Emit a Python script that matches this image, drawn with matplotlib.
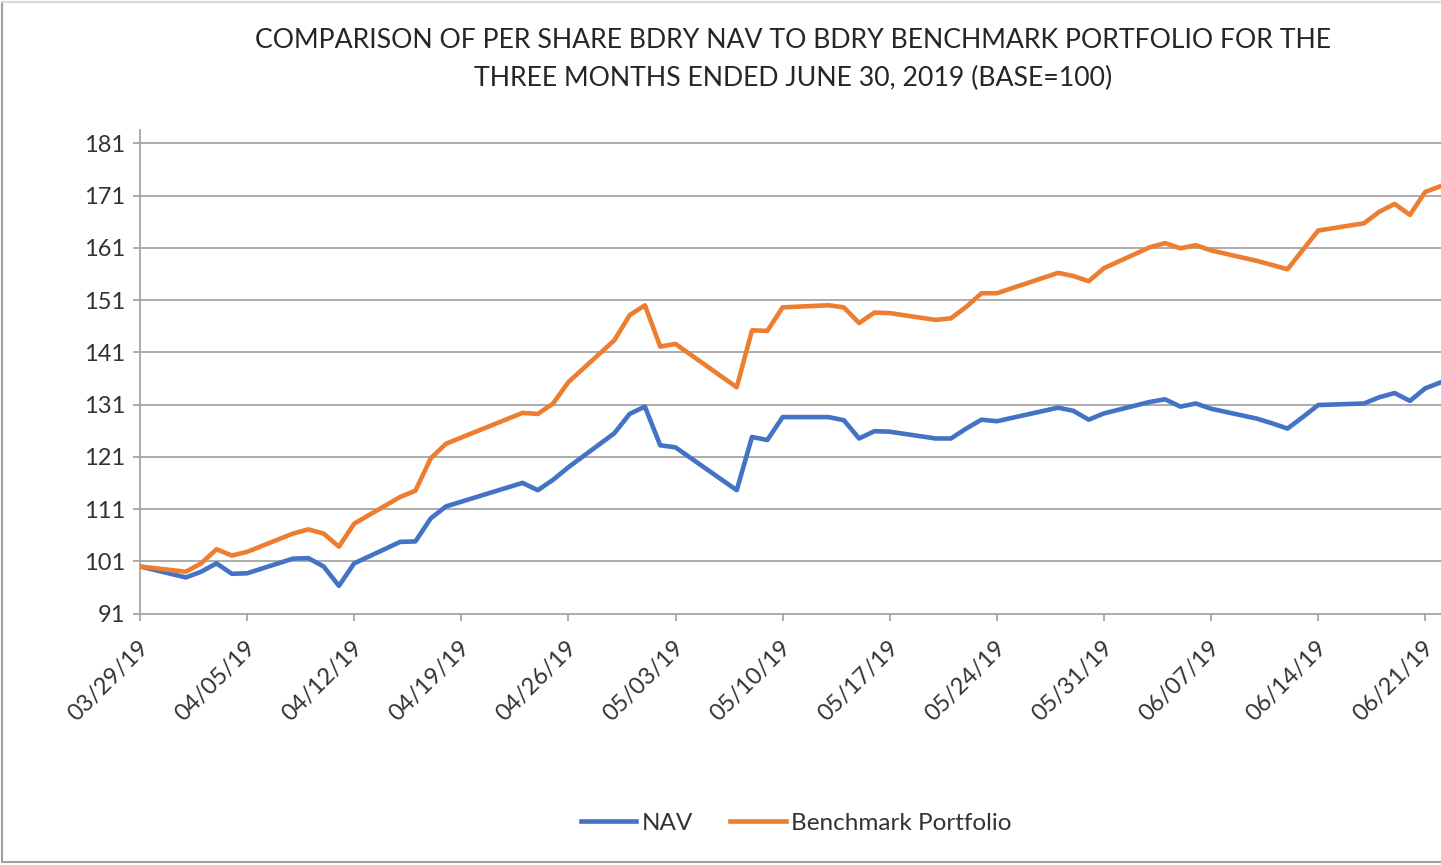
import matplotlib
matplotlib.use("Agg")
import matplotlib.pyplot as plt
import matplotlib.dates as mdates
import matplotlib.transforms as mtransforms
from matplotlib.lines import Line2D
import datetime as dt

dates = ["2019-03-29", "2019-04-01", "2019-04-02", "2019-04-03", "2019-04-04", "2019-04-05",
         "2019-04-08", "2019-04-09", "2019-04-10", "2019-04-11", "2019-04-12",
         "2019-04-15", "2019-04-16", "2019-04-17", "2019-04-18",
         "2019-04-23", "2019-04-24", "2019-04-25", "2019-04-26",
         "2019-04-29", "2019-04-30", "2019-05-01", "2019-05-02", "2019-05-03",
         "2019-05-07", "2019-05-08", "2019-05-09", "2019-05-10",
         "2019-05-13", "2019-05-14", "2019-05-15", "2019-05-16", "2019-05-17",
         "2019-05-20", "2019-05-21", "2019-05-22", "2019-05-23", "2019-05-24",
         "2019-05-28", "2019-05-29", "2019-05-30", "2019-05-31",
         "2019-06-03", "2019-06-04", "2019-06-05", "2019-06-06", "2019-06-07",
         "2019-06-10", "2019-06-11", "2019-06-12", "2019-06-13", "2019-06-14",
         "2019-06-17", "2019-06-18", "2019-06-19", "2019-06-20", "2019-06-21",
         "2019-06-24"]

nav = [100.0, 97.9, 99.0, 100.6, 98.6, 98.7,
       101.5, 101.6, 100.0, 96.3, 100.6,
       104.7, 104.8, 109.2, 111.5,
       116.0, 114.6, 116.6, 119.0,
       125.5, 129.2, 130.6, 123.2, 122.8,
       114.6, 124.8, 124.2, 128.6,
       128.6, 128.0, 124.5, 125.9, 125.8,
       124.5, 124.5, 126.4, 128.1, 127.8,
       130.4, 129.8, 128.1, 129.3,
       131.5, 132.0, 130.6, 131.2, 130.2,
       128.3, 127.4, 126.4, 128.6, 130.9,
       131.2, 132.4, 133.2, 131.7, 134.1,
       137.5]

benchmark = [100.0, 99.0, 100.6, 103.3, 102.1, 102.8,
             106.3, 107.1, 106.3, 103.8, 108.2,
             113.3, 114.5, 120.7, 123.5,
             129.4, 129.2, 131.2, 135.3,
             143.3, 148.1, 150.0, 142.1, 142.6,
             134.3, 145.2, 145.1, 149.6,
             150.0, 149.6, 146.6, 148.6, 148.5,
             147.2, 147.5, 149.7, 152.3, 152.3,
             156.2, 155.6, 154.6, 157.1,
             161.1, 161.9, 160.9, 161.5, 160.5,
             158.5, 157.7, 156.9, 160.6, 164.3,
             165.7, 167.9, 169.4, 167.3, 171.7,
             175.0]

yticks = [91, 101, 111, 121, 131, 141, 151, 161, 171, 181]
tick_dates = ["2019-03-29", "2019-04-05", "2019-04-12", "2019-04-19", "2019-04-26",
              "2019-05-03", "2019-05-10", "2019-05-17", "2019-05-24", "2019-05-31",
              "2019-06-07", "2019-06-14", "2019-06-21"]

title_lines = ["COMPARISON OF PER SHARE BDRY NAV TO BDRY BENCHMARK PORTFOLIO FOR THE",
               "THREE MONTHS ENDED JUNE 30, 2019 (BASE=100)"]

FONT = "Lato"
plt.rcParams["font.family"] = [FONT, "DejaVu Sans"]

W, H = 1441, 865
PX = 72 / 100  # points per pixel
fig = plt.figure(figsize=(W / 100, H / 100), dpi=100)

x = mdates.date2num([dt.datetime.strptime(d, "%Y-%m-%d") for d in dates])
xt = [dt.datetime.strptime(d, "%Y-%m-%d") for d in tick_dates]
xtn = mdates.date2num(xt)

left, right = 140 / W, 1.0
bottom, top = (H - 613.5) / H, (H - 130) / H
ax = fig.add_axes([left, bottom, right - left, top - bottom])

blue = "#4472C4"
orange = "#ED7D31"
lw = 4.6 * PX
ax.plot(x, nav, color=blue, lw=lw, solid_joinstyle="round", zorder=3)
ax.plot(x, benchmark, color=orange, lw=lw, solid_joinstyle="round", zorder=3)

ax.set_ylim(91, 183.55)
ax.set_xlim(xtn[0], xtn[-1] + 1.03)

tick_fs = 17
txt_c = "#333333"
ax.set_yticks(yticks)
ax.set_yticklabels([str(v) for v in yticks])
ax.set_xticks(xtn)
ax.set_xticklabels([d.strftime("%m/%d/%y") for d in xt])

grid_c = "#a6a6a6"
for v in yticks[1:]:
    ax.axhline(v, color=grid_c, lw=1.3, zorder=1)

for s in ["top", "right"]:
    ax.spines[s].set_visible(False)
ax.spines["left"].set_color(grid_c)
ax.spines["left"].set_linewidth(1.3)
ax.spines["bottom"].set_color(grid_c)
ax.spines["bottom"].set_linewidth(1.3)

ax.tick_params(axis="y", length=7 * PX, width=1.3, color=grid_c, pad=8 * PX, direction="out",
               labelsize=tick_fs, labelcolor=txt_c)
ax.tick_params(axis="x", length=7 * PX, width=1.3, color=grid_c, pad=24 * PX, direction="out",
               labelsize=tick_fs, labelcolor=txt_c)
offset = mtransforms.ScaledTranslation(5 / 100, 0, fig.dpi_scale_trans)
for lab in ax.get_xticklabels():
    lab.set_rotation(45)
    lab.set_ha("right")
    lab.set_va("center")
    lab.set_rotation_mode("anchor")
    lab.set_transform(lab.get_transform() + offset)

# Title
title_fs = 19.2
fig.text(793 / W, 1 - 40 / H, title_lines[0], ha="center", va="center", fontsize=title_fs, color="#262626")
fig.text(793 / W, 1 - 78 / H, title_lines[1], ha="center", va="center", fontsize=title_fs, color="#262626")

# Legend
handles = [Line2D([0], [0], color=blue, lw=lw), Line2D([0], [0], color=orange, lw=lw)]
fig.legend(handles, ["NAV", "Benchmark Portfolio"], loc="center", bbox_to_anchor=(796 / W, 1 - 823 / H),
           ncol=2, frameon=False, fontsize=17.5, handlelength=2.3, handletextpad=0.2, columnspacing=1.55,
           labelcolor=txt_c)

# Outer border (left, top, bottom)
bc = "#a0a0a0"
fig.add_artist(Line2D([1.5 / W, 1.5 / W], [1 - 2 / H, 1 - 862 / H], color=bc, lw=1.5, transform=fig.transFigure))
fig.add_artist(Line2D([1.5 / W, 1.0], [1 - 2 / H, 1 - 2 / H], color="#d9d9d9", lw=1.5, transform=fig.transFigure))
fig.add_artist(Line2D([1.5 / W, 1.0], [1 - 862 / H, 1 - 862 / H], color=bc, lw=1.5, transform=fig.transFigure))

fig.savefig("out.png", dpi=100)
